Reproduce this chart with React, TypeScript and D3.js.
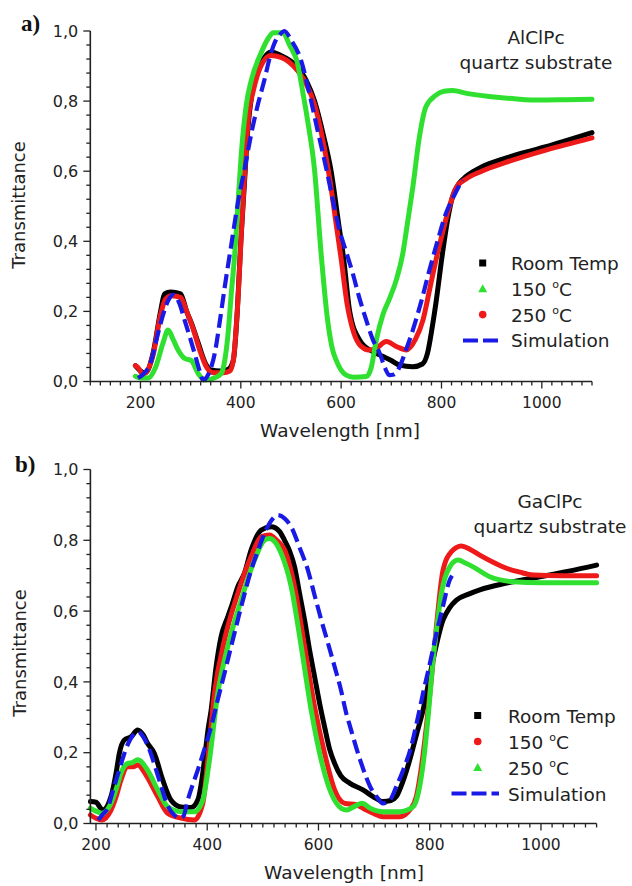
import React from "react";
import * as d3 from "d3";

// ---------- data: [wavelength nm, transmittance] ----------
const aRoomTemp: [number, number][] = [[190,0.045],[200,0.03],[210,0.025],[225,0.08],[240,0.2],[248,0.25],[260,0.255],[280,0.25],[292,0.2],[302,0.165],[315,0.11],[330,0.05],[340,0.033],[360,0.03],[375,0.035],[385,0.06],[393,0.2],[400,0.4],[407,0.56],[414,0.72],[422,0.82],[432,0.88],[445,0.92],[460,0.94],[480,0.93],[507,0.905],[530,0.86],[547,0.8],[565,0.7],[580,0.6],[595,0.45],[605,0.35],[617,0.2],[637,0.118],[663,0.085],[683,0.072],[700,0.06],[716,0.047],[743,0.042],[762,0.05],[772,0.08],[781,0.15],[789,0.225],[802,0.366],[812,0.46],[822,0.527],[835,0.565],[849,0.585],[880,0.612],[928,0.637],[970,0.655],[1008,0.67],[1050,0.688],[1100,0.71]];
const a150: [number, number][] = [[190,0.015],[200,0.01],[215,0.01],[230,0.04],[245,0.11],[255,0.147],[265,0.12],[275,0.09],[288,0.066],[301,0.06],[315,0.023],[328,0.004],[347,0.01],[361,0.023],[368,0.06],[374,0.128],[381,0.25],[388,0.366],[395,0.52],[401,0.65],[411,0.79],[421,0.86],[440,0.936],[455,0.98],[465,0.995],[484,0.995],[497,0.96],[513,0.908],[523,0.83],[533,0.746],[547,0.603],[560,0.366],[573,0.175],[583,0.09],[590,0.061],[610,0.018],[625,0.012],[650,0.014],[660,0.04],[670,0.118],[683,0.19],[696,0.235],[710,0.29],[723,0.366],[733,0.46],[743,0.556],[756,0.698],[769,0.784],[789,0.817],[805,0.828],[822,0.83],[850,0.822],[895,0.813],[950,0.806],[994,0.803],[1050,0.804],[1100,0.805]];
const a250: [number, number][] = [[190,0.045],[195,0.04],[205,0.02],[225,0.075],[240,0.19],[250,0.235],[262,0.245],[280,0.24],[292,0.2],[305,0.15],[318,0.09],[332,0.04],[345,0.025],[365,0.025],[378,0.03],[385,0.06],[395,0.25],[402,0.45],[408,0.6],[415,0.75],[425,0.83],[440,0.9],[460,0.93],[480,0.925],[505,0.9],[530,0.85],[547,0.79],[562,0.7],[577,0.58],[590,0.45],[600,0.35],[612,0.22],[625,0.14],[640,0.1],[655,0.09],[670,0.095],[690,0.114],[710,0.1],[730,0.09],[748,0.12],[763,0.175],[776,0.26],[789,0.347],[803,0.43],[816,0.5],[830,0.555],[849,0.578],[880,0.6],[928,0.625],[1008,0.66],[1100,0.695]];
const aSim: [number, number][] = [[195,0.01],[205,0.02],[222,0.061],[232,0.12],[242,0.175],[255,0.23],[265,0.247],[277,0.225],[288,0.175],[308,0.08],[318,0.03],[325,0.004],[335,0.02],[348,0.08],[358,0.17],[368,0.27],[381,0.39],[394,0.508],[408,0.61],[421,0.708],[434,0.79],[447,0.86],[457,0.92],[467,0.965],[478,0.99],[487,1.0],[500,0.975],[520,0.917],[537,0.82],[553,0.717],[570,0.61],[586,0.5],[597,0.43],[610,0.37],[623,0.309],[636,0.24],[650,0.175],[663,0.12],[677,0.08],[687,0.04],[696,0.018],[705,0.02],[716,0.04],[728,0.085],[743,0.147],[760,0.23],[776,0.318],[792,0.4],[809,0.48],[825,0.53],[842,0.575]];

const bRoomTemp: [number, number][] = [[190,0.062],[200,0.06],[212,0.038],[227,0.076],[237,0.15],[242,0.198],[251,0.236],[263,0.245],[275,0.264],[285,0.25],[293,0.226],[305,0.198],[320,0.123],[335,0.066],[353,0.047],[371,0.045],[383,0.066],[390,0.12],[395,0.179],[401,0.26],[407,0.32],[416,0.443],[425,0.528],[437,0.584],[445,0.62],[455,0.669],[467,0.707],[479,0.773],[497,0.829],[515,0.838],[530,0.825],[539,0.8],[548,0.77],[557,0.725],[566,0.65],[575,0.575],[584,0.49],[593,0.415],[602,0.34],[611,0.273],[620,0.21],[629,0.17],[640,0.135],[656,0.114],[680,0.095],[698,0.076],[716,0.062],[730,0.065],[740,0.076],[752,0.12],[764,0.179],[776,0.25],[788,0.32],[806,0.462],[824,0.575],[836,0.61],[848,0.631],[870,0.648],[890,0.66],[938,0.679],[998,0.697],[1050,0.713],[1100,0.73]];
const b150: [number, number][] = [[190,0.024],[200,0.015],[210,0.01],[227,0.038],[237,0.08],[245,0.123],[257,0.16],[267,0.16],[275,0.165],[290,0.137],[311,0.076],[329,0.029],[353,0.015],[377,0.01],[392,0.057],[401,0.179],[413,0.368],[431,0.518],[455,0.65],[479,0.754],[497,0.81],[512,0.815],[525,0.8],[539,0.773],[557,0.669],[575,0.5],[593,0.33],[611,0.198],[629,0.095],[647,0.057],[668,0.053],[686,0.038],[700,0.028],[716,0.019],[746,0.019],[765,0.04],[776,0.076],[786,0.17],[794,0.273],[803,0.41],[812,0.556],[824,0.716],[839,0.768],[857,0.784],[872,0.775],[890,0.758],[914,0.738],[938,0.721],[962,0.71],[986,0.702],[1040,0.7],[1100,0.7]];
const b250: [number, number][] = [[190,0.043],[200,0.035],[210,0.029],[227,0.057],[237,0.1],[245,0.142],[257,0.17],[265,0.172],[275,0.18],[293,0.15],[311,0.095],[329,0.047],[353,0.033],[377,0.033],[392,0.066],[404,0.179],[419,0.368],[437,0.5],[461,0.631],[485,0.744],[503,0.8],[512,0.805],[522,0.795],[533,0.763],[551,0.669],[569,0.5],[587,0.32],[605,0.179],[623,0.085],[641,0.043],[651,0.038],[663,0.047],[678,0.057],[693,0.043],[716,0.033],[746,0.033],[770,0.047],[780,0.09],[789,0.179],[797,0.3],[806,0.462],[814,0.57],[821,0.65],[836,0.725],[851,0.744],[865,0.735],[878,0.725],[908,0.697],[950,0.683],[1000,0.68],[1100,0.68]];
const bSim: [number, number][] = [[204,0.01],[212,0.025],[222,0.047],[230,0.09],[240,0.142],[258,0.226],[276,0.259],[285,0.245],[294,0.217],[312,0.132],[330,0.047],[340,0.025],[350,0.015],[357,0.02],[365,0.066],[374,0.11],[383,0.151],[395,0.21],[407,0.273],[419,0.35],[431,0.424],[443,0.5],[455,0.575],[467,0.648],[479,0.716],[491,0.77],[503,0.82],[515,0.855],[527,0.871],[539,0.862],[551,0.838],[566,0.78],[581,0.716],[593,0.645],[605,0.575],[617,0.51],[629,0.443],[640,0.38],[650,0.311],[657,0.273],[675,0.179],[693,0.104],[705,0.075],[716,0.057],[728,0.065],[740,0.104],[752,0.15],[765,0.208],[776,0.28],[788,0.368],[800,0.45],[812,0.537],[824,0.615],[836,0.688],[840,0.7]];

const xTickLabels = [200, 400, 600, 800, 1000];
const yTickLabels = ["0,0", "0,2", "0,4", "0,6", "0,8", "1,0"];
const legendA = ["Room Temp", "150", "250", "Simulation"];
const legendB = ["Room Temp", "150", "250", "Simulation"];

const BLACK = "#000000";
const GREEN = "#30e030";
const RED = "#ee1a1a";
const BLUE = "#1a1ae6";
const FONT = "DejaVu Sans, Verdana, sans-serif";

type Series = { data: [number, number][]; color: string; dashed?: boolean; marker?: string; label: string };

function Panel(props: {
  x0: number; x1: number; domX: [number, number];
  y0: number; y1: number;
  series: Series[]; legendOrder: Series[];
  tag: string; tagX: number; tagY: number;
  title1: string; titleX: number; titleY: number;
  legX: number; legTextX: number; legY: number; legStep: number; dashX0: number; dashX1: number;
  ylabelX: number; ylabelY: number;
  xlabelX: number; xlabelY: number;
}) {
  const p = props;
  const x = d3.scaleLinear().domain(p.domX).range([p.x0, p.x1]);
  const y = d3.scaleLinear().domain([0, 1]).range([p.y0, p.y1]);
  const line = d3.line<[number, number]>().x(d => x(d[0])).y(d => y(d[1])).curve(d3.curveMonotoneX);
  const minorX = d3.range(Math.ceil(p.domX[0] / 20) * 20, p.domX[1] + 1, 20);
  const minorY = d3.range(0, 1.0001, 0.04);
  return (
    <g>
      {p.series.map((s, i) => (
        <path key={i} d={line(s.data) || ""} fill="none" stroke={s.color}
          strokeWidth={s.dashed ? 4.2 : 5} strokeDasharray={s.dashed ? "14 6" : undefined}
          strokeLinejoin="round" strokeLinecap={s.dashed ? "butt" : "round"} />
      ))}
      {/* axes */}
      <line x1={p.x0} x2={p.x0} y1={p.y0 + 0.5} y2={p.y1} stroke="#222" strokeWidth={1.6} />
      <line x1={p.x0} x2={p.x1} y1={p.y0} y2={p.y0} stroke="#222" strokeWidth={1.6} />
      {minorX.map(v => {
        const major = v % 200 === 0;
        return <line key={"xt" + v} x1={x(v)} x2={x(v)} y1={p.y0} y2={p.y0 + (major ? 7 : 4)} stroke="#222" strokeWidth={1.3} />;
      })}
      {minorY.map((v, i) => {
        const major = i % 5 === 0;
        return <line key={"yt" + i} x1={p.x0} x2={p.x0 - (major ? 7 : 4)} y1={y(v)} y2={y(v)} stroke="#222" strokeWidth={1.3} />;
      })}
      {xTickLabels.map(v => (
        <text key={"xl" + v} x={x(v)} y={p.y0 + 26.5} textAnchor="middle" fontFamily={FONT} fontSize={15.5} fill="#222">{v}</text>
      ))}
      {yTickLabels.map((t, i) => (
        <text key={"yl" + i} x={p.x0 - 12} y={y(i * 0.2)} dy="0.36em" textAnchor="end" fontFamily={FONT} fontSize={16} fill="#222">{t}</text>
      ))}
      <text x={p.xlabelX} y={p.xlabelY} textAnchor="middle" fontFamily={FONT} fontSize={18.5} fill="#222">Wavelength [nm]</text>
      <text transform={`translate(${p.ylabelX},${p.ylabelY}) rotate(-90)`} textAnchor="middle" fontFamily={FONT} fontSize={18} fill="#222">Transmittance</text>
      <text x={p.tagX} y={p.tagY} fontFamily="Liberation Serif, serif" fontWeight="bold" fontSize={23} fill="#111">{p.tag}</text>
      <text x={p.titleX} y={p.titleY} textAnchor="middle" fontFamily={FONT} fontSize={18.5} fill="#222">{p.title1}</text>
      <text x={p.titleX} y={p.titleY + 25} textAnchor="middle" fontFamily={FONT} fontSize={18.5} fill="#222">quartz substrate</text>
      {p.legendOrder.map((s, i) => {
        const cy = p.legY + i * p.legStep;
        let mark: React.ReactNode = null;
        if (s.dashed) {
          mark = <line x1={p.dashX0} x2={p.dashX1} y1={cy} y2={cy} stroke={s.color} strokeWidth={4} strokeDasharray="15 5" />;
        } else if (s.marker === "square") {
          mark = <rect x={p.legX - 3.5} y={cy - 3.5} width={7} height={7} fill={s.color} />;
        } else if (s.marker === "circle") {
          mark = <circle cx={p.legX} cy={cy} r={3.8} fill={s.color} />;
        } else {
          mark = <path d={`M${p.legX},${cy - 4.5} L${p.legX + 4.5},${cy + 3.5} L${p.legX - 4.5},${cy + 3.5} Z`} fill={s.color} />;
        }
        const isTemp = s.label !== "Room Temp" && s.label !== "Simulation";
        return (
          <g key={"lg" + i}>
            {mark}
            <text x={p.legTextX} y={cy + 7} fontFamily={FONT} fontSize={18.5} fill="#222">
              {isTemp ? (
                <>
                  {s.label + " "}
                  <tspan fontSize={11} dy={-8}>o</tspan>
                  <tspan dy={8}>C</tspan>
                </>
              ) : s.label}
            </text>
          </g>
        );
      })}
    </g>
  );
}

export default function App() {
  const aRT: Series = { data: aRoomTemp, color: BLACK, marker: "square", label: legendA[0] };
  const a15: Series = { data: a150, color: GREEN, marker: "triangle", label: legendA[1] };
  const a25: Series = { data: a250, color: RED, marker: "circle", label: legendA[2] };
  const aS: Series = { data: aSim, color: BLUE, dashed: true, label: legendA[3] };
  const bRT: Series = { data: bRoomTemp, color: BLACK, marker: "square", label: legendB[0] };
  const b15: Series = { data: b150, color: RED, marker: "circle", label: legendB[1] };
  const b25: Series = { data: b250, color: GREEN, marker: "triangle", label: legendB[2] };
  const bS: Series = { data: bSim, color: BLUE, dashed: true, label: legendB[3] };
  return (
    <svg width={632} height={886} style={{ position: "absolute", left: 0, top: 0, background: "#fff" }}>
      <rect width={632} height={886} fill="#fff" />
      <Panel x0={90.3} x1={592} domX={[100, 1100]} y0={381.5} y1={31}
        series={[aRT, a25, a15, aS]} legendOrder={[aRT, a15, a25, aS]}
        tag="a)" tagX={21} tagY={31} title1="AlClPc" titleX={536} titleY={44}
        legX={482.7} legTextX={511} legY={263} legStep={25.8} dashX0={463} dashX1={500}
        ylabelX={25} ylabelY={205} xlabelX={340} xlabelY={437} />
      <Panel x0={90.4} x1={596.6} domX={[190, 1100]} y0={823.5} y1={469.5}
        series={[bRT, b15, b25, bS]} legendOrder={[bRT, b15, b25, bS]}
        tag="b)" tagX={15} tagY={472} title1="GaClPc" titleX={550} titleY={508}
        legX={477.7} legTextX={508} legY={715.5} legStep={26} dashX0={451.5} dashX1={499}
        ylabelX={26} ylabelY={653} xlabelX={344} xlabelY={879} />
    </svg>
  );
}
